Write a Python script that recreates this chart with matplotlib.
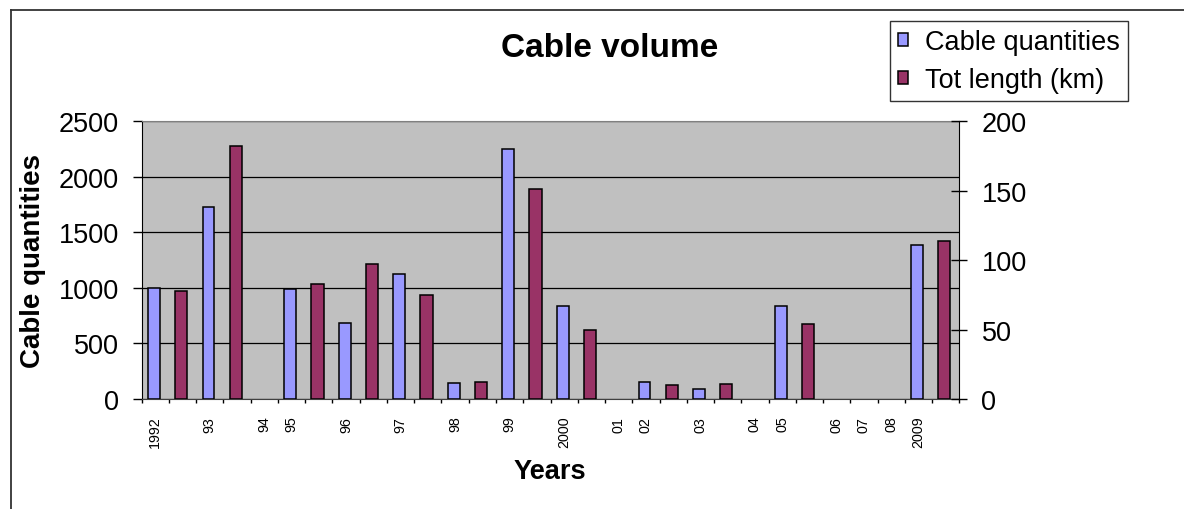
import numpy as np
import matplotlib.pyplot as plt
from matplotlib.lines import Line2D

plt.rcParams["font.family"] = ["Liberation Sans", "DejaVu Sans"]

nan = np.nan
labels = ["1992", "", "93", "", "94", "95", "", "96", "", "97", "", "98", "", "99", "",
          "2000", "", "01", "02", "", "03", "", "04", "05", "", "06", "07", "08", "2009", ""]
quantities = [1000, nan, 1730, nan, nan, 990, nan, 680, nan, 1125, nan, 140, nan, 2250, nan,
              835, nan, nan, 150, nan, 90, nan, nan, 835, nan, nan, nan, nan, 1390, nan]
length_km = [nan, 78, nan, 182, nan, nan, 83, nan, 97, nan, 75, nan, 12, nan, 151,
             nan, 50, nan, nan, 10, nan, 11, nan, nan, 54, nan, nan, nan, nan, 114]

blue = "#9999FF"
red = "#993366"

fig = plt.figure(figsize=(11.84, 5.10), dpi=100)
ax = fig.add_axes([0.1197, 0.2157, 0.8102 - 0.1197, 0.7602 - 0.2157])
ax2 = ax.twinx()

x = np.arange(len(labels)) - 0.05
b1 = ax.bar(x, quantities, width=0.43, color=blue, edgecolor="black", linewidth=1.1,
            label="Cable quantities", zorder=3)
b2 = ax2.bar(x, length_km, width=0.45, color=red, edgecolor="black", linewidth=1.1,
             label="Tot length (km)", zorder=3)

ax.set_facecolor("#C0C0C0")
ax.set_xlim(-0.5, len(labels) - 0.5)
ax.set_ylim(0, 2500)
ax2.set_ylim(0, 200)
ax.set_yticks(range(0, 2501, 500))
ax2.set_yticks(range(0, 201, 50))
ax.set_axisbelow(True)
ax.yaxis.grid(True, color="black", linewidth=0.9)

ax.set_xticks(np.arange(len(labels)))
ax.set_xticklabels(labels, rotation=90, fontsize=10.3)
ax.set_xticks(np.arange(len(labels) + 1) - 0.5, minor=True)
ax.tick_params(axis="x", which="major", length=0, pad=12)
ax.tick_params(axis="x", which="minor", length=3, width=1, direction="out")
ax.tick_params(axis="y", labelsize=19.5, length=6.5, width=1, direction="out", pad=10)
ax2.tick_params(axis="y", labelsize=19.5, length=12, width=1, direction="inout", pad=10)

ax.spines["top"].set_color("#808080")
ax.spines["right"].set_visible(False)
ax.spines["left"].set_color("black")
ax.spines["bottom"].set_color("#404040")
for s in ["top", "left", "bottom"]:
    ax2.spines[s].set_visible(False)
ax2.spines["right"].set_color("black")

fig.text(0.5152, 1 - 48.7 / 510, "Cable volume", fontsize=24, fontweight="bold",
         ha="center", va="center")
fig.text(33 / 1184, 1 - 261 / 510, "Cable quantities", fontsize=20, fontweight="bold",
         rotation=90, ha="center", va="center")
fig.text(549.7 / 1184, 1 - 472 / 510, "Years", fontsize=19.6, fontweight="bold",
         ha="center", va="center")

leg = fig.legend([b1, b2], ["Cable quantities", "Tot length (km)"],
                 loc="upper left", bbox_to_anchor=(890 / 1184, 1 - 22 / 510),
                 borderaxespad=0, fontsize=19.5, frameon=True, fancybox=False,
                 handlelength=0.38, handleheight=0.38, handletextpad=0.62,
                 labelspacing=0.45, borderpad=0.3)
leg.get_frame().set_edgecolor("black")
leg.get_frame().set_linewidth(1.0)

# outer chart border (runs off right and bottom edges)
fig.add_artist(Line2D([11 / 1184, 1.0], [1 - 10.5 / 510, 1 - 10.5 / 510],
                      transform=fig.transFigure, color="#333333", linewidth=1.3))
fig.add_artist(Line2D([11 / 1184, 11 / 1184], [0.0, 1 - 10.5 / 510],
                      transform=fig.transFigure, color="#333333", linewidth=1.3))

fig.savefig("out.png", dpi=100)
